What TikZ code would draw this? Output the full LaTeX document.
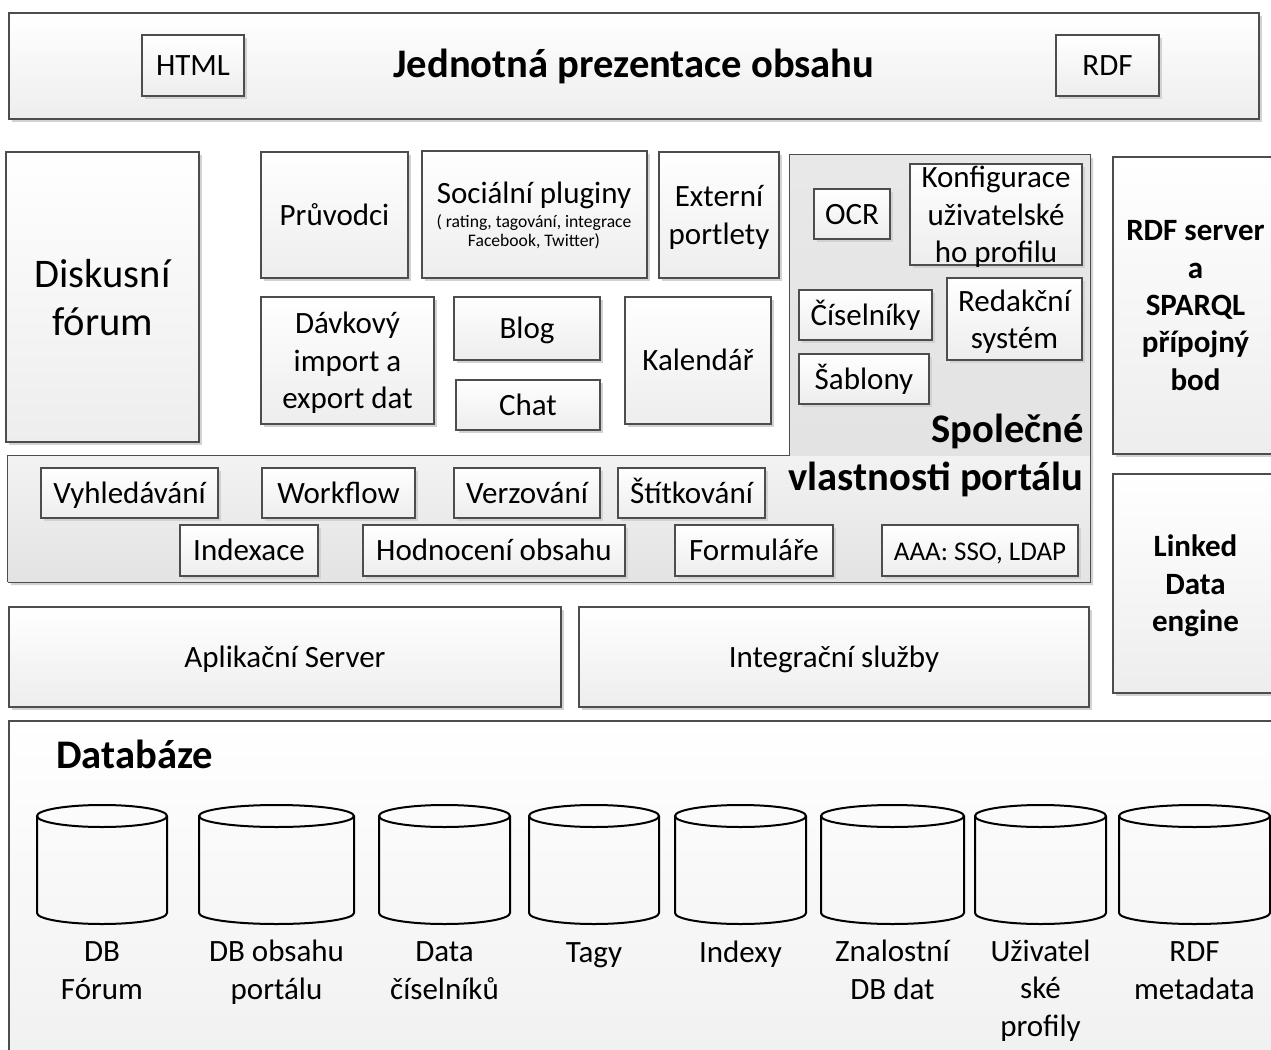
\documentclass[tikz,border=0pt]{standalone}
\usepackage{fontspec}
\setmainfont{Carlito}
\usetikzlibrary{fit,shadows}
\definecolor{boxline}{HTML}{4D4D4D}
\definecolor{shadowcol}{HTML}{D2D2D2}
\newcommand{\basefont}{\fontsize{15.5}{18.7}\selectfont}
\newcommand{\bigfont}{\fontsize{20.3}{24}\selectfont}
\newcommand{\subfont}{\fontsize{8.8}{9.4}\selectfont}
\newcommand{\bxstrut}{\rule[-3pt]{0pt}{16pt}}

\begin{document}
\begin{tikzpicture}[x=0.5pt,y=-0.5pt,
  box/.style={draw=boxline,line width=0.6pt,top color=white,bottom color=black!7,
    inner sep=0pt,align=center,font=\basefont,
    execute at begin node=\bxstrut,execute at end node=\bxstrut,
    drop shadow={shadow xshift=1.4pt,shadow yshift=-1.4pt,fill=shadowcol,opacity=1}},
  mbox/.style={box,text depth=0pt},
  wh/.style 2 args={minimum width=#1*0.5pt,minimum height=#2*0.5pt},
  bigbox/.style={mbox,font=\bigfont},
  boldbox/.style={mbox,font=\basefont\bfseries},
  area/.style={draw=boxline,line width=0.6pt,top color=white,bottom color=black!6,inner sep=0pt},
  boldbig/.style={font=\bigfont\bfseries,inner sep=0pt},
  cyl/.style={draw=black,line width=1pt},
  dblbl/.style={font=\basefont,align=center,inner sep=0pt,anchor=base}]
  \useasboundingbox (0,0) rectangle (1271,1050);
  \clip (0,0) rectangle (1271,1050);
  % top presentation layer
  \node[box,wh={1250}{106},font=\bigfont\bfseries,text depth=3pt] (prez) at (634,66) {Jednotná prezentace obsahu};
  \node[box,wh={102}{61}] (html) at (193,65.5) {HTML};
  \node[box,wh={103}{61}] (rdf) at (1107.5,65.5) {RDF};
  % portlets
  \node[bigbox,wh={193}{290}] (forum) at (102.5,297) {Diskusní\\fórum};
  \node[box,wh={147}{126}] (pruvodci) at (334.5,215) {Průvodci};
  \node[box,wh={225}{127}] (social) at (534.5,214.5) {};
  \node[font=\basefont,inner sep=0pt,anchor=base] (socialt) at (534,203) {Sociální pluginy};
  \node[font=\subfont,align=center,inner sep=0pt] (socials) at (534,232)
    {( rating, tagování, integrace\\Facebook, Twitter)};
  \node[mbox,wh={120}{126}] (portlety) at (719,215) {Externí\\portlety};
  \node[mbox,wh={173}{127}] (import) at (347.5,360.5) {Dávkový\\import a\\export dat};
  \node[box,wh={146}{63}] (blog) at (527,328.5) {Blog};
  \node[box,wh={144}{50}] (chat) at (528,405) {Chat};
  \node[box,wh={146}{127}] (kalendar) at (698,360.5) {Kalendář};
  % common portal features
  \fill[shadowcol] (11,458) -- (793,458) -- (793,158) -- (1093,158) -- (1093,585) -- (11,585) -- cycle;
  \node[top color=black!5,bottom color=black!11,inner sep=0pt,fit={(8,455) (1090,582)}] (band) {};
  \node[top color=black!9,bottom color=black!11,inner sep=0pt,fit={(790,155) (1090,455)}] (panel) {};
  \draw[boxline,line width=0.6pt] (band.south west) |- (panel.south west) |- (panel.north east)
    |- (band.south west);
  \node[box,wh={76}{50}] (ocr) at (852,214) {OCR};
  \node[mbox,wh={172}{101}] (konfig) at (996,214.5) {Konfigurace\\uživatelské\\ho profilu};
  \node[box,wh={133}{50}] (ciselniky) at (865.5,315) {Číselníky};
  \node[mbox,wh={135}{82}] (redakce) at (1014.5,319) {Redakční\\systém};
  \node[box,wh={130}{50}] (sablony) at (864,379) {Šablony};
  \node[boldbig,anchor=base east] (spol) at (1084,442) {Společné};
  \node[boldbig,anchor=base east] (vlast) at (1084,490) {vlastnosti portálu};
  \node[box,wh={177}{50}] (hledani) at (129.5,493) {Vyhledávání};
  \node[box,wh={153}{50}] (workflow) at (338.5,493) {Workflow};
  \node[box,wh={146}{50}] (verze) at (527,493) {Verzování};
  \node[box,wh={147}{50}] (stitky) at (691.5,493) {Štítkování};
  \node[box,wh={138}{51}] (index) at (249,550.5) {Indexace};
  \node[box,wh={262}{51}] (hodnoceni) at (494,550.5) {Hodnocení obsahu};
  \node[box,wh={158}{51}] (formulare) at (754,550.5) {Formuláře};
  \node[box,wh={196}{51},font=\fontsize{13.5}{16}\selectfont] (aaa) at (980,550.5) {AAA: SSO, LDAP};
  % RDF side
  \node[boldbox,wh={165}{297}] (sparql) at (1195.5,305.5) {RDF server\\a\\SPARQL\\přípojný\\bod};
  \node[boldbox,wh={165}{219}] (linked) at (1195.5,583.5) {Linked\\Data\\engine};
  % server layer
  \node[box,wh={552}{100}] (server) at (285,657) {Aplikační Server};
  \node[box,wh={510}{100}] (integrace) at (834,657) {Integrační služby};
  % databases
  \node[area,fit={(9,721) (1300,1080)}] (dbarea) {};
  \node[boldbig,anchor=base west] (dbtitle) at (56,768) {Databáze};
  \foreach \cx/\rx/\by/\lbl [count=\i] in {102/65/999/{DB\\Fórum}, 276.5/77.5/999/{DB obsahu\\portálu},
      444.5/65.5/999/{Data\\číselníků}, 594/65/962/{Tagy}, 740.5/65.5/962/{Indexy},
      892.5/71.5/999/{Znalostní\\DB dat}, 1040.5/65.5/1036/{Uživatel\\ské\\profily},
      1194.5/75.5/999/{RDF\\metadata}} {
    \draw[cyl] (\cx-\rx,816) -- (\cx-\rx,913)
      arc[start angle=180,end angle=0,x radius=\rx,y radius=11] -- (\cx+\rx,816);
    \draw[cyl] (\cx,816) ellipse[x radius=\rx,y radius=11];
    \node[dblbl] (db\i) at (\cx,\by) {\lbl};
  }
\end{tikzpicture}
\end{document}
